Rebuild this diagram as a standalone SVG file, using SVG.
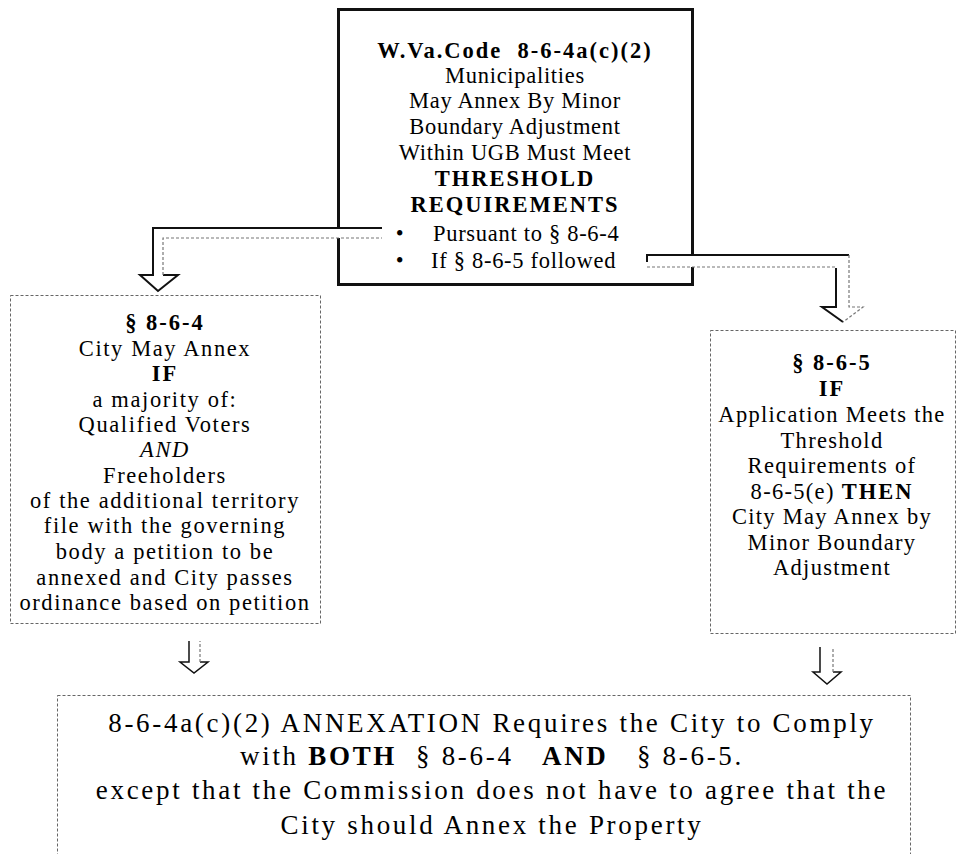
<svg xmlns="http://www.w3.org/2000/svg" width="966" height="854" viewBox="0 0 966 854">
<style>
.t{font-family:"Liberation Serif","Times New Roman",serif;font-size:22.5px;fill:#000;text-anchor:middle;letter-spacing:0.7px}
.l{letter-spacing:1.6px}
.r{letter-spacing:1.3px}
.s{text-anchor:start}
.b{font-weight:bold;letter-spacing:2px}
.i{font-style:italic}
.big{font-size:27px;letter-spacing:2.7px}
.dbox{fill:#fff;stroke:#666;stroke-width:1;stroke-dasharray:3 2}
.solid{fill:none;stroke:#111;stroke-width:2;stroke-linejoin:miter}
.light{fill:none;stroke:#777;stroke-width:1.2;stroke-dasharray:3 2}
.afill{fill:#fff;stroke:none}
</style>
<rect width="966" height="854" fill="#fff"/>

<g id="node-top">
<rect x="338.5" y="9.5" width="354" height="275" fill="#fff" stroke="#111" stroke-width="3"/>
<text class="t b" x="515" y="58" xml:space="preserve">W.Va.Code  8-6-4a(c)(2)</text>
<text class="t" x="515" y="83">Municipalities</text>
<text class="t" x="515" y="108">May Annex By Minor</text>
<text class="t" x="515" y="134">Boundary Adjustment</text>
<text class="t" x="515" y="160">Within UGB Must Meet</text>
<text class="t b" x="515" y="186">THRESHOLD</text>
<text class="t b" x="515" y="212">REQUIREMENTS</text>
<text class="t" x="400" y="241">•</text>
<text class="t s" x="433" y="241">Pursuant to § 8-6-4</text>
<text class="t" x="400" y="268">•</text>
<text class="t s" x="431" y="268">If § 8-6-5 followed</text>
</g>

<g id="node-left">
<rect class="dbox" x="10.5" y="295.5" width="310" height="328"/>
<text class="t b" x="165" y="330">§ 8-6-4</text>
<text class="t l" x="165" y="356">City May Annex</text>
<text class="t b" x="165" y="381">IF</text>
<text class="t l" x="165" y="407">a majority of:</text>
<text class="t l" x="165" y="432">Qualified Voters</text>
<text class="t l i" x="165" y="457">AND</text>
<text class="t l" x="165" y="483">Freeholders</text>
<text class="t l" x="165" y="508">of the additional territory</text>
<text class="t l" x="165" y="533">file with the governing</text>
<text class="t l" x="165" y="559">body a petition to be</text>
<text class="t l" x="165" y="585">annexed and City passes</text>
<text class="t l" x="165" y="610">ordinance based on petition</text>
</g>

<g id="node-right">
<rect class="dbox" x="710.5" y="330.5" width="245" height="303"/>
<text class="t b" x="832" y="370">§ 8-6-5</text>
<text class="t b" x="832" y="396">IF</text>
<text class="t r" x="832" y="422">Application Meets the</text>
<text class="t r" x="832" y="448">Threshold</text>
<text class="t r" x="832" y="473">Requirements of</text>
<text class="t r" x="832" y="499">8-6-5(e) <tspan class="b">THEN</tspan></text>
<text class="t r" x="832" y="524">City May Annex by</text>
<text class="t r" x="832" y="550">Minor Boundary</text>
<text class="t r" x="832" y="575">Adjustment</text>
</g>

<g id="node-bottom">
<rect class="dbox" x="57.5" y="695.5" width="853" height="175"/>
<text class="t big" x="492" y="732">8-6-4a(c)(2) ANNEXATION Requires the City to Comply</text>
<text class="t big" x="492" y="765" xml:space="preserve">with <tspan font-weight="bold">BOTH</tspan>  § 8-6-4   <tspan font-weight="bold">AND</tspan>   § 8-6-5.</text>
<text class="t big" x="492" y="799">except that the Commission does not have to agree that the</text>
<text class="t big" x="492" y="834">City should Annex the Property</text>
</g>

<g id="connectors">
<path class="afill" d="M382,228 H153 V275 H140 L158,291 L178,275 H163 V238 H382 Z"/>
<path class="solid" d="M382,228 H153 V275 H140 L158,291 L178,275 H163"/>
<path class="light" d="M163,275 V238 H382"/>
<path class="afill" d="M647,255 H849 V307 H863 L843,322 L822,307 H836 V267 H647 Z"/>
<path class="solid" d="M647,262 V255 H849"/>
<path class="solid" d="M836,268 V307 H822 L843,322"/>
<path class="light" d="M849,255 V307 H863 L843,322"/>
<path class="light" d="M647,267 H836"/>
<path class="afill" d="M189,641 V662 H180 L194,673 L208,662 H200 V641 Z"/>
<path class="solid" style="stroke-width:1.5" d="M189,641 V662 H180 L194,673 L208,662 H200"/>
<path class="light" d="M200,662 V641"/>
<path class="afill" d="M820,647 V672 H813 L827,684 L841,672 H833 V647 Z"/>
<path class="solid" style="stroke-width:1.5" d="M820,647 V672 H813 L827,684 L841,672 H833"/>
<path class="light" d="M833,672 V647"/>
</g>
</svg>
